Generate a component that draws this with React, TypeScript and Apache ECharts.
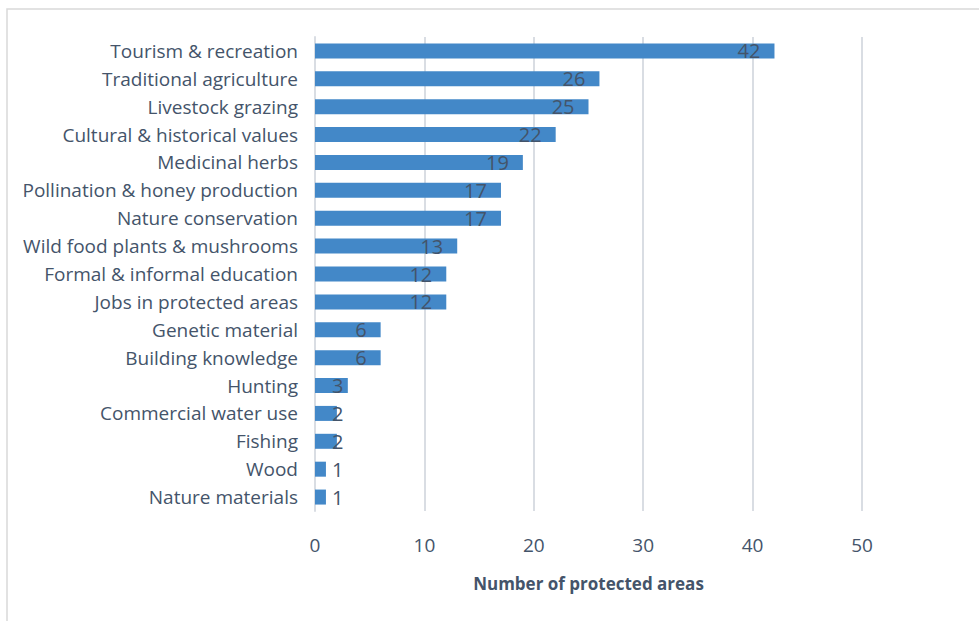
import React, { useEffect, useRef } from "react";
import * as echarts from "echarts";

const categories = [
  "Tourism & recreation",
  "Traditional agriculture",
  "Livestock grazing",
  "Cultural & historical values",
  "Medicinal herbs",
  "Pollination & honey production",
  "Nature conservation",
  "Wild food plants & mushrooms",
  "Formal & informal education",
  "Jobs in protected areas",
  "Genetic material",
  "Building knowledge",
  "Hunting",
  "Commercial water use",
  "Fishing",
  "Wood",
  "Nature materials",
];
const values = [42, 26, 25, 22, 19, 17, 17, 13, 12, 12, 6, 6, 3, 2, 2, 1, 1];
const xTicks = [0, 10, 20, 30, 40, 50];
const axisTitle = "Number of protected areas";

const TEXT = "#44546A";
const FONT = "'Open Sans', 'Liberation Sans', sans-serif";

export default function App() {
  const ref = useRef<HTMLDivElement>(null);
  useEffect(() => {
    if (!ref.current) return;
    const chart = echarts.init(ref.current, undefined, { renderer: "svg" });
    const data = values.map((v) => ({
      value: v,
      label:
        v <= 3
          ? { position: "insideLeft", distance: 17 }
          : { position: "insideRight", distance: 14 },
    }));
    chart.setOption({
      animation: false,
      backgroundColor: "#fff",
      graphic: [
        {
          type: "rect",
          shape: { x: 7, y: 9, width: 990, height: 640 },
          style: { fill: "none", stroke: "#D9D9D9", lineWidth: 1.5 },
          silent: true,
        },
      ],
      grid: { left: 315, right: 979 - 862, top: 37, bottom: 621 - 511 },
      xAxis: {
        type: "value",
        min: xTicks[0],
        max: xTicks[xTicks.length - 1],
        interval: 10,
        axisLine: { show: false },
        axisTick: { show: false },
        splitLine: { lineStyle: { color: "#D9DDE3", width: 2 } },
        axisLabel: { color: TEXT, fontSize: 19, fontFamily: FONT, margin: 24 },
        name: axisTitle,
        nameLocation: "middle",
        nameGap: 64,
        nameTextStyle: { color: TEXT, fontSize: 17, fontWeight: "bold", fontFamily: FONT },
      },
      yAxis: {
        type: "category",
        inverse: true,
        data: categories,
        axisLine: { show: true, lineStyle: { color: "#D9DDE3", width: 2 } },
        axisTick: { show: false },
        axisLabel: { color: TEXT, fontSize: 19, fontFamily: FONT, margin: 17 },
      },
      series: [
        {
          type: "bar",
          data,
          barWidth: 15,
          itemStyle: { color: "#4388C8" },
          label: {
            show: true,
            color: TEXT,
            fontSize: 20,
            fontFamily: FONT,
          },
        },
      ],
    });
    return () => chart.dispose();
  }, []);
  return (
    <div
      ref={ref}
      style={{ position: "absolute", left: 0, top: 0, width: 979, height: 621 }}
    />
  );
}
